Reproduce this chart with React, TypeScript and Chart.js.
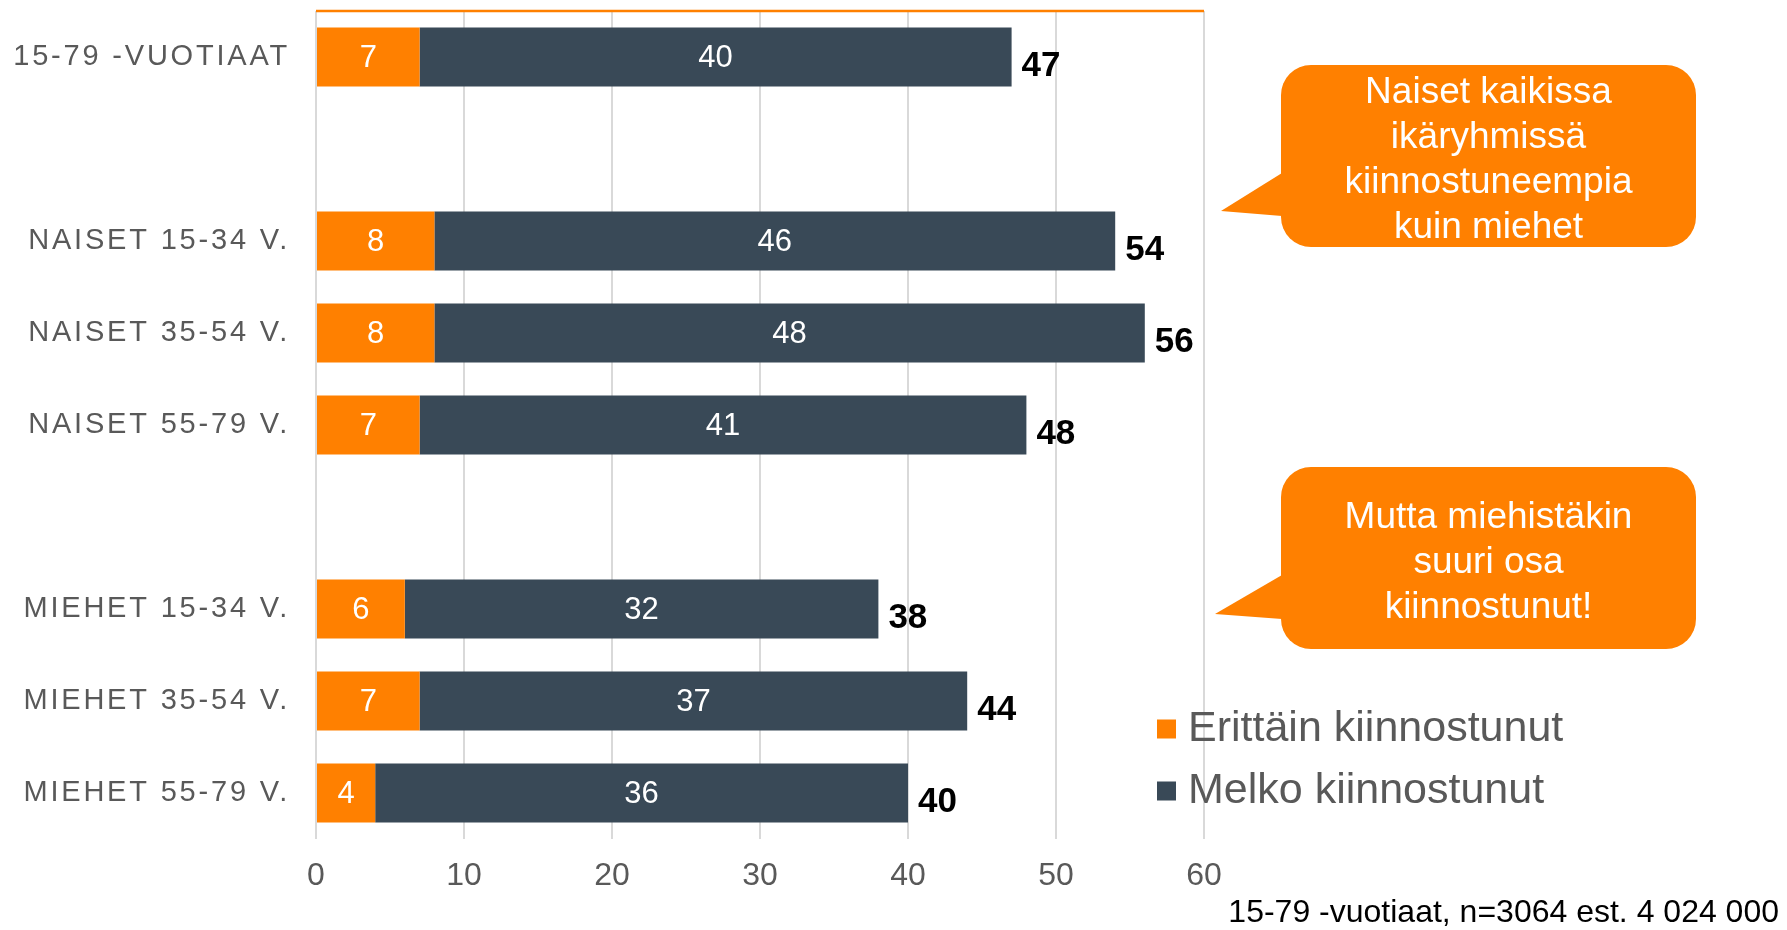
import React, { useEffect, useRef } from "react";
import { Chart, registerables } from "chart.js";

Chart.register(...registerables);

const categories = [
  "15-79 -VUOTIAAT",
  "",
  "NAISET 15-34 V.",
  "NAISET 35-54 V.",
  "NAISET 55-79 V.",
  "",
  "MIEHET 15-34 V.",
  "MIEHET 35-54 V.",
  "MIEHET 55-79 V.",
];
const erittainValues = [7, null, 8, 8, 7, null, 6, 7, 4];
const melkoValues = [40, null, 46, 48, 41, null, 32, 37, 36];
const seriesLabels = ["Erittäin kiinnostunut", "Melko kiinnostunut"];
const xTickMin = 0;
const xTickMax = 60;
const xTickStep = 10;
const calloutWomen = ["Naiset kaikissa", "ikäryhmissä", "kiinnostuneempia", "kuin miehet"];
const calloutMen = ["Mutta miehistäkin", "suuri osa", "kiinnostunut!"];
const footnote = "15-79 -vuotiaat, n=3064 est. 4 024 000";

const FONT = '"Liberation Sans", Arial, Helvetica, sans-serif';
const ORANGE = "#FF8000";
const DARK = "#394957";
const GRAY = "#595959";

function drawCallout(
  ctx: CanvasRenderingContext2D,
  bx: number,
  by: number,
  bw: number,
  bh: number,
  r: number,
  pointer: number[][],
  lines: string[],
  fontSize: number,
  lineHeight: number,
  textShift: number
) {
  ctx.save();
  ctx.fillStyle = ORANGE;
  ctx.beginPath();
  (ctx as any).roundRect(bx, by, bw, bh, r);
  ctx.fill();
  ctx.beginPath();
  ctx.moveTo(pointer[0][0], pointer[0][1]);
  ctx.lineTo(pointer[1][0], pointer[1][1]);
  ctx.lineTo(pointer[2][0], pointer[2][1]);
  ctx.closePath();
  ctx.fill();
  ctx.fillStyle = "#FFFFFF";
  ctx.font = `${fontSize}px ${FONT}`;
  ctx.textAlign = "center";
  ctx.textBaseline = "middle";
  const cx = bx + bw / 2;
  const cy = by + bh / 2 + textShift;
  const start = cy - ((lines.length - 1) * lineHeight) / 2;
  lines.forEach((l, i) => ctx.fillText(l, cx, start + i * lineHeight));
  ctx.restore();
}

const overlayPlugin = {
  id: "overlay",
  afterDraw(chart: any) {
    const ctx: CanvasRenderingContext2D = chart.ctx;
    const area = chart.chartArea;
    const yScale = chart.scales.y;
    ctx.save();

    // top orange line
    ctx.strokeStyle = ORANGE;
    ctx.lineWidth = 2.5;
    ctx.beginPath();
    ctx.moveTo(area.left, area.top);
    ctx.lineTo(area.right, area.top);
    ctx.stroke();

    // category labels
    ctx.font = `29px ${FONT}`;
    ctx.fillStyle = GRAY;
    ctx.textAlign = "right";
    ctx.textBaseline = "middle";
    (ctx as any).letterSpacing = "2.8px";
    categories.forEach((c, i) => {
      if (!c) return;
      ctx.fillText(c, area.left - 26, yScale.getPixelForValue(i));
    });
    (ctx as any).letterSpacing = "0px";

    // inside value labels
    ctx.font = `31px ${FONT}`;
    ctx.fillStyle = "#FFFFFF";
    ctx.textAlign = "center";
    chart.data.datasets.forEach((ds: any, d: number) => {
      const meta = chart.getDatasetMeta(d);
      ds.data.forEach((v: any, i: number) => {
        if (v == null) return;
        const el = meta.data[i];
        const p = el.getCenterPoint();
        ctx.fillText(String(v), p.x, p.y + 1);
      });
    });

    // totals
    ctx.font = `bold 35px ${FONT}`;
    ctx.fillStyle = "#000000";
    ctx.textAlign = "left";
    const lastMeta = chart.getDatasetMeta(chart.data.datasets.length - 1);
    categories.forEach((c, i) => {
      const a = erittainValues[i];
      const b = melkoValues[i];
      if (a == null || b == null) return;
      const el = lastMeta.data[i];
      ctx.fillText(String(a + b), el.x + 10, el.y + 9);
    });

    // legend
    ctx.font = `43px ${FONT}`;
    ctx.textBaseline = "middle";
    chart.data.datasets.forEach((ds: any, d: number) => {
      const cy = 729 + d * 62;
      ctx.fillStyle = ds.backgroundColor;
      ctx.fillRect(1157, cy - 9.5, 19, 19);
      ctx.fillStyle = GRAY;
      ctx.fillText(ds.label, 1188, cy);
    });

    // callouts
    drawCallout(
      ctx,
      1281,
      65,
      415,
      182,
      30,
      [
        [1282, 173],
        [1221, 211],
        [1282, 216],
      ],
      calloutWomen,
      37,
      45,
      4
    );
    drawCallout(
      ctx,
      1281,
      467,
      415,
      182,
      30,
      [
        [1282, 575],
        [1215, 614],
        [1282, 619],
      ],
      calloutMen,
      37,
      45,
      5
    );

    // footnote
    ctx.font = `32px ${FONT}`;
    ctx.fillStyle = "#000000";
    ctx.textAlign = "right";
    ctx.textBaseline = "middle";
    ctx.fillText(footnote, 1779, 913);

    ctx.restore();
  },
};

export default function App() {
  const ref = useRef<HTMLCanvasElement | null>(null);
  useEffect(() => {
    if (!ref.current) return;
    const chart = new Chart(ref.current, {
      type: "bar",
      data: {
        labels: categories,
        datasets: [
          {
            label: seriesLabels[0],
            data: erittainValues as any,
            backgroundColor: ORANGE,
            barPercentage: 0.642,
            categoryPercentage: 1,
          },
          {
            label: seriesLabels[1],
            data: melkoValues as any,
            backgroundColor: DARK,
            barPercentage: 0.642,
            categoryPercentage: 1,
          },
        ],
      },
      options: {
        indexAxis: "y",
        responsive: false,
        animation: false,
        layout: { padding: { top: 11, right: 583, bottom: 0, left: 0 } },
        plugins: {
          legend: { display: false },
          tooltip: { enabled: false },
        },
        scales: {
          x: {
            stacked: true,
            min: xTickMin,
            max: xTickMax,
            ticks: {
              stepSize: xTickStep,
              color: GRAY,
              font: { size: 32, family: FONT },
              padding: 18,
            },
            grid: { color: "#D9D9D9", lineWidth: 2, drawTicks: false },
            border: { display: false },
            afterFit: (s: any) => {
              s.height = 91;
            },
          },
          y: {
            stacked: true,
            ticks: { display: false },
            grid: { display: false },
            border: { display: false },
            afterFit: (s: any) => {
              s.width = 316;
            },
          },
        },
      },
      plugins: [overlayPlugin],
    });
    return () => chart.destroy();
  }, []);
  return (
    <div style={{ position: "absolute", left: 0, top: 0, width: 1787, height: 930, background: "#fff" }}>
      <canvas ref={ref} width={1787} height={930} style={{ width: 1787, height: 930 }} />
    </div>
  );
}
